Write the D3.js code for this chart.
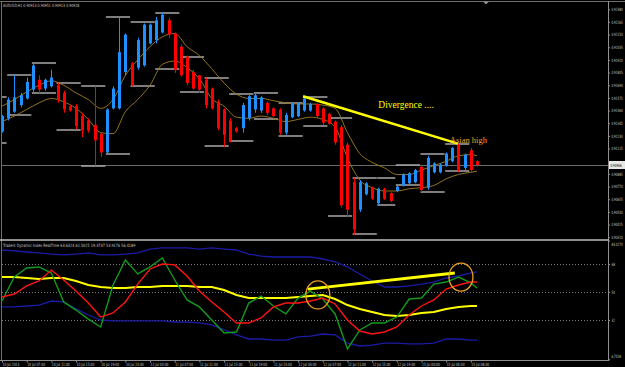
<!DOCTYPE html>
<html>
<head>
<meta charset="utf-8">
<script src="https://cdn.jsdelivr.net/npm/d3@7"></script>
<style>
  html, body { margin: 0; padding: 0; background: #000; }
  svg { display: block; }
  text { font-family: Tahoma, "DejaVu Sans", sans-serif; }
</style>
</head>
<body>
<div id="chart"></div>
<script>
// AUDUSD H1 bars, 10 Jul 03:00 -> 15 Jul 09:00 (index = bar number)
const opens  = [0.9127,0.9139,0.9145,0.9151,0.9157,0.9165,0.9174,0.9166,0.9168,0.9169,0.9162,0.9150,0.9150,0.9141,0.9137,0.9133,0.9125,0.9108,0.9148,0.9148,0.9181,0.9189,0.9185,0.9187,0.9207,0.9210,0.9217,0.9228,0.9216,0.9204,0.9195,0.9181,0.9178,0.9174,0.9166,0.9154,0.9147,0.9137,0.9130,0.9130,0.9139,0.9147,0.9146,0.9153,0.9148,0.9147,0.9126,0.9140,0.9141,0.9146,0.9146,0.9152,0.9148,0.9143,0.9136,0.9131,0.9115,0.9081,0.9056,0.9070,0.9076,0.9062,0.9075,0.9071,0.9073,0.9078,0.9080,0.9081,0.9095,0.9076,0.9090,0.9090,0.9096,0.9100,0.9115,0.9094,0.9110,0.9100]
const highs  = [0.9142,0.9158,0.9178,0.9162,0.9176,0.9189,0.9178,0.9175,0.9183,0.9171,0.9164,0.9151,0.9152,0.9144,0.9139,0.9168,0.9126,0.9148,0.9168,0.9231,0.9216,0.9190,0.9212,0.9225,0.9225,0.9231,0.9235,0.9230,0.9217,0.9206,0.9196,0.9183,0.9178,0.9176,0.9167,0.9156,0.9148,0.9139,0.9131,0.9153,0.9160,0.9162,0.9159,0.9154,0.9149,0.9148,0.9144,0.9153,0.9153,0.9158,0.9153,0.9153,0.9149,0.9144,0.9137,0.9133,0.9117,0.9085,0.9083,0.9081,0.9077,0.9076,0.9076,0.9072,0.9078,0.9089,0.9090,0.9093,0.9097,0.9105,0.9099,0.9098,0.9108,0.9113,0.9116,0.9107,0.9112,0.9101]
const lows   = [0.9126,0.9137,0.9144,0.9149,0.9156,0.9163,0.9162,0.9164,0.9167,0.9153,0.9144,0.9145,0.9129,0.9122,0.9126,0.9096,0.9104,0.9107,0.9147,0.9147,0.9178,0.9168,0.9183,0.9186,0.9206,0.9207,0.9216,0.9212,0.9180,0.9177,0.9169,0.9165,0.9162,0.9148,0.9147,0.9128,0.9113,0.9117,0.9126,0.9126,0.9137,0.9144,0.9144,0.9142,0.9140,0.9124,0.9124,0.9139,0.9140,0.9145,0.9145,0.9139,0.9133,0.9133,0.9115,0.9058,0.9049,0.9033,0.9054,0.9069,0.9065,0.9060,0.9065,0.9063,0.9072,0.9077,0.9079,0.9080,0.9072,0.9074,0.9089,0.9089,0.9095,0.9099,0.9090,0.9090,0.9090,0.9095]
const closes = [0.9141,0.9156,0.9158,0.9160,0.9172,0.9187,0.9165,0.9174,0.9176,0.9156,0.9147,0.9146,0.9132,0.9128,0.9128,0.9119,0.9108,0.9147,0.9166,0.9199,0.9215,0.9169,0.9210,0.9224,0.9224,0.9228,0.9233,0.9215,0.9183,0.9178,0.9171,0.9166,0.9165,0.9151,0.9148,0.9130,0.9124,0.9119,0.9127,0.9151,0.9159,0.9160,0.9158,0.9144,0.9141,0.9126,0.9142,0.9152,0.9152,0.9157,0.9152,0.9141,0.9135,0.9134,0.9117,0.9060,0.9056,0.9038,0.9081,0.9080,0.9066,0.9075,0.9066,0.9064,0.9077,0.9088,0.9089,0.9092,0.9074,0.9103,0.9098,0.9097,0.9107,0.9112,0.9092,0.9106,0.9092,0.90966]

// 4-hour high / low levels
const levelBreaks = [-3,1,5,9,13,17,21,25,29,33,37,41,45,49,53,57,61,64,68,72,76]
const levelHigh = [0.9158,0.9178,0.9189,0.9171,0.9168,0.9231,0.9226,0.9235,0.9195,0.9176,0.9161,0.9162,0.9153,0.9158,0.9139,0.9085,0.9085,0.9097,0.9107,0.9116]
const levelLow  = [0.9117,0.9142,0.9162,0.9128,0.9096,0.9107,0.9168,0.9184,0.9163,0.9114,0.9118,0.9138,0.9123,0.9132,0.9050,0.9034,0.9060,0.9078,0.9072,0.9091]

// MA channel, read every second bar
const maIdx   = [0,2,4,6,8,10,12,14,16,18,20,22,24,26,28,30,32,34,36,38,40,42,44,46,48,50,52,54,56,58,60,62,64,66,68,70,72,74,76,77]
const maUpper = [0.9150,0.9156,0.9163,0.9169,0.9173,0.9169,0.9162,0.9156,0.9148,0.9156,0.9178,0.9192,0.9204,0.9213,0.9216,0.9204,0.9196,0.9184,0.9171,0.9161,0.9157,0.9157,0.9155,0.9153,0.9152,0.9152,0.9151,0.9148,0.9126,0.9107,0.9099,0.9094,0.9088,0.9088,0.9092,0.9096,0.9100,0.9105,0.9106,0.9105]
const maLower = [0.9136,0.9141,0.9147,0.9153,0.9157,0.9154,0.9148,0.9138,0.9126,0.9125,0.9145,0.9156,0.9169,0.9188,0.9191,0.9185,0.9175,0.9157,0.9150,0.9140,0.9139,0.9141,0.9139,0.9136,0.9138,0.9140,0.9138,0.9131,0.9103,0.9083,0.9076,0.9073,0.9073,0.9075,0.9076,0.9078,0.9084,0.9088,0.9090,0.9091]

// Traders Dynamic Index, read every second bar
const tdiUpper  = [77.0,76.4,75.7,75.1,74.4,73.8,74.4,75.1,73.8,73.8,74.4,75.1,77.6,78.3,78.3,78.3,77.6,78.3,77.6,77.0,74.4,73.1,72.5,72.5,72.5,72.5,71.2,69.3,66.1,61.6,57.1,53.2,53.2,53.9,55.1,56.4,59.0,60.3,62.2,62.9]
const tdiLower  = [40.4,40.4,41.0,41.6,44.2,43.6,39.1,35.2,32.0,31.4,31.4,31.4,31.4,31.4,30.7,30.7,30.1,28.8,25.6,22.4,19.8,19.8,19.1,19.1,21.1,21.7,23.0,22.4,17.2,15.3,15.9,17.2,17.2,16.6,16.6,17.2,19.8,19.8,19.1,19.1]
const tdiBase   = [59.6,59.6,59.0,58.4,59.0,59.0,57.1,54.5,53.2,52.6,52.6,53.2,53.2,53.9,53.9,53.9,53.2,53.2,51.3,48.1,46.1,46.1,46.1,46.1,46.8,47.4,48.1,45.5,41.6,39.1,37.1,35.2,34.6,35.2,36.5,37.1,39.1,40.4,41.0,41.0]
const tdiSignal = [46.8,48.7,53.9,57.1,64.1,57.7,50.6,42.9,33.9,36.5,43.6,55.1,64.8,68.0,67.4,60.3,50.6,43.6,37.1,30.1,30.1,33.3,40.4,42.9,42.9,44.2,46.1,42.3,32.0,24.9,23.0,24.3,27.5,35.2,41.0,44.9,51.9,54.5,56.4,56.4]
const tdiRsi    = [44.2,59.6,65.4,66.1,62.2,43.6,38.4,32.6,27.5,54.5,70.6,61.6,66.1,71.9,57.7,44.9,40.4,32.0,23.6,24.3,42.9,47.4,41.0,35.9,46.1,50.6,45.5,35.9,13.4,25.6,30.1,30.1,33.9,45.5,46.1,55.1,56.4,59.6,55.8,52.6]
const tdiLevels = [68, 50, 32]
const tdiTicks  = [83.0274, 68, 50, 32, 6.7418]

const priceTicks = [0.92380,0.92265,0.92150,0.92035,0.91920,0.91805,0.91690,0.91575,0.91460,0.91345,0.91230,0.91115,0.91000,0.90885,0.90770,0.90655,0.90540,0.90425,0.90310]
const timeIdx = [0,4,8,12,16,20,24,28,32,36,40,44,48,52,56,60,64,68,72,76]
const timeLabels = ['10 Jul 2013','10 Jul 07:00','10 Jul 11:00','10 Jul 15:00','10 Jul 19:00','10 Jul 23:00','11 Jul 03:00','11 Jul 07:00','11 Jul 11:00','11 Jul 15:00','11 Jul 19:00','11 Jul 23:00','12 Jul 03:00','12 Jul 07:00','12 Jul 11:00','12 Jul 15:00','12 Jul 19:00','15 Jul 00:00','15 Jul 04:00','15 Jul 08:00']

// hand-drawn objects: [bar, value]
const divergence = [[48.8, 0.9159], [73.9, 0.9116]]
const tdiTrend = [[49.6, 51.9], [73.4, 62.2]]
const tdiCircles = [[51.2, 48.1], [74.4, 59.6]]

const dms = { width: 625, height: 367, right: 608, mainTop: 1, mainBottom: 240, subTop: 240.6, subBottom: 359.3 }
const tinyFont = '4.4px'
const squeeze = 0.62

const svg = d3.select('#chart').append('svg')
    .attr('width', dms.width)
    .attr('height', dms.height)
    .style('background', '#000')

const defs = svg.append('defs')
defs.append('clipPath').attr('id', 'clip-main').append('rect')
    .attr('x', 2).attr('y', dms.mainTop).attr('width', dms.right - 2).attr('height', dms.mainBottom - dms.mainTop - 1)
defs.append('clipPath').attr('id', 'clip-sub').append('rect')
    .attr('x', 2).attr('y', dms.mainBottom + 1).attr('width', dms.right - 2).attr('height', dms.subBottom - dms.mainBottom - 1)

const x = d3.scaleLinear().domain([0, 77]).range([2, 477])
const y = d3.scaleLinear().domain([0.90285, 0.92464]).range([dms.mainBottom, 0])
const yT = d3.scaleLinear().domain([6.7418, 83.0274]).range([dms.subBottom, dms.subTop])
const px = v => Math.round(x(v)) + 0.5

// squeezed tiny label, as the terminal draws it
const tinyText = (sel, tx, ty, txt, fill, sx) => sel.append('text')
    .attr('transform', `translate(${tx},${ty}) scale(${sx || squeeze},1)`)
    .style('font-size', tinyFont)
    .attr('fill', fill || '#c8c8c8')
    .text(txt)

// frame
svg.append('line').attr('x1', 0).attr('x2', dms.width).attr('y1', 1.5).attr('y2', 1.5).attr('stroke', '#707070')
svg.append('line').attr('x1', 1.5).attr('x2', 1.5).attr('y1', 1).attr('y2', 360).attr('stroke', '#707070')
svg.append('line').attr('x1', dms.right + 0.5).attr('x2', dms.right + 0.5).attr('y1', 1).attr('y2', 360).attr('stroke', '#909090')
svg.append('line').attr('x1', 0).attr('x2', dms.right + 1).attr('y1', 360.5).attr('y2', 360.5).attr('stroke', '#909090')
svg.append('path').attr('d', 'M483,1.5 L489,1.5 L486,4.5 Z').attr('fill', '#909090')

const main = svg.append('g').attr('clip-path', 'url(#clip-main)')

// current price line
const lastPrice = closes[closes.length - 1]
main.append('line')
    .attr('x1', 0).attr('x2', dms.right)
    .attr('y1', Math.round(y(lastPrice)) + 0.5).attr('y2', Math.round(y(lastPrice)) + 0.5)
    .attr('stroke', '#6a6a6a')

// level lines
const levelSegs = levelHigh.flatMap((hi, j) => [
    { a: levelBreaks[j], b: levelBreaks[j + 1], p: hi },
    { a: levelBreaks[j], b: levelBreaks[j + 1], p: levelLow[j] }
])
main.append('g').selectAll('line')
    .data(levelSegs)
    .join('line')
    .attr('x1', d => x(d.a) - 1)
    .attr('x2', d => x(d.b) - 1.5)
    .attr('y1', d => Math.round(y(d.p)))
    .attr('y2', d => Math.round(y(d.p)))
    .attr('stroke', '#a9a9a9')
    .attr('stroke-width', 1.5)

// MA channel
const maLine = d3.line().x(d => x(d[0])).y(d => y(d[1])).curve(d3.curveMonotoneX)
;[maUpper, maLower].forEach(s => {
    main.append('path')
        .datum(d3.zip(maIdx, s))
        .attr('d', maLine)
        .attr('fill', 'none')
        .attr('stroke', '#94741f')
        .attr('stroke-width', 1)
})

// bars
const bars = opens.map((o, i) => ({ i, o, h: highs[i], l: lows[i], c: closes[i] }))
const colorOf = d => d.c >= d.o ? '#1e90ff' : '#ff0000'

main.append('g').selectAll('line')
    .data(bars)
    .join('line')
    .attr('x1', d => px(d.i))
    .attr('x2', d => px(d.i))
    .attr('y1', d => y(d.h))
    .attr('y2', d => y(d.l))
    .attr('stroke', colorOf)

main.append('g').selectAll('rect')
    .data(bars)
    .join('rect')
    .attr('x', d => px(d.i) - 1.5)
    .attr('width', 3)
    .attr('y', d => y(Math.max(d.o, d.c)))
    .attr('height', d => Math.max(1, Math.abs(y(d.o) - y(d.c))))
    .attr('fill', colorOf)

// divergence annotation
main.append('line')
    .attr('x1', x(divergence[0][0])).attr('y1', y(divergence[0][1]))
    .attr('x2', x(divergence[1][0])).attr('y2', y(divergence[1][1]))
    .attr('stroke', '#ffff00')
    .attr('stroke-width', 2.6)

main.append('text')
    .attr('x', x(61)).attr('y', y(0.9148))
    .style('font-family', '"Liberation Serif", "Times New Roman", serif')
    .style('font-size', '9.5px')
    .attr('fill', '#ffff00')
    .text('Divergence ....')

main.append('text')
    .attr('x', x(72.6)).attr('y', y(0.9117))
    .style('font-family', '"Liberation Serif", "Times New Roman", serif')
    .style('font-size', '8.5px')
    .attr('fill', '#f0a030')
    .text('Asian high')

tinyText(svg, 3, 7, 'AUDUSD,H1  0.90913 0.90951 0.90913 0.90928', null, 0.73)

// price axis
const priceAxis = svg.append('g')
    .attr('transform', `translate(${dms.right},0)`)
    .call(d3.axisRight(y).tickValues(priceTicks.filter(t => Math.abs(y(t) - y(lastPrice)) > 7))
        .tickFormat(d3.format('.5f')).tickSize(2).tickSizeOuter(0))
priceAxis.select('.domain').remove()
priceAxis.selectAll('line').attr('stroke', '#909090')
priceAxis.selectAll('text')
    .attr('x', null).attr('dy', '0.32em')
    .attr('transform', `translate(3.5,0) scale(${squeeze},1)`)
    .style('font-size', tinyFont)
    .attr('fill', '#c8c8c8')

svg.append('rect')
    .attr('x', dms.right + 1).attr('y', y(lastPrice) - 4)
    .attr('width', 16).attr('height', 8)
    .attr('fill', '#e8e8e8')
tinyText(svg, dms.right + 2.5, y(lastPrice) + 1.6, d3.format('.5f')(lastPrice), '#000')

// separator between panels
svg.append('line')
    .attr('x1', 0).attr('x2', dms.right + 1)
    .attr('y1', dms.mainBottom).attr('y2', dms.mainBottom)
    .attr('stroke', '#c0c0c0').attr('stroke-width', 1.6)

// TDI panel
const sub = svg.append('g').attr('clip-path', 'url(#clip-sub)')

sub.append('g').selectAll('line')
    .data(tdiLevels)
    .join('line')
    .attr('x1', 2).attr('x2', dms.right)
    .attr('y1', d => Math.round(yT(d)) + 0.5)
    .attr('y2', d => Math.round(yT(d)) + 0.5)
    .attr('stroke', '#7a7a7a')
    .attr('stroke-dasharray', '1,2')

const tdiLine = d3.line().x(d => x(d[0])).y(d => yT(d[1]))
const series = [
    { v: tdiUpper, c: '#1b1ba6', w: 1.3 },
    { v: tdiLower, c: '#1b1ba6', w: 1.3 },
    { v: tdiBase, c: '#ffff00', w: 2 },
    { v: tdiRsi, c: '#13991b', w: 1.4 },
    { v: tdiSignal, c: '#ff1414', w: 1.4 }
]
series.forEach(s => {
    sub.append('path')
        .datum(d3.zip(maIdx, s.v))
        .attr('d', tdiLine)
        .attr('fill', 'none')
        .attr('stroke', s.c)
        .attr('stroke-width', s.w)
})

sub.append('line')
    .attr('x1', x(tdiTrend[0][0])).attr('y1', yT(tdiTrend[0][1]))
    .attr('x2', x(tdiTrend[1][0])).attr('y2', yT(tdiTrend[1][1]))
    .attr('stroke', '#ffff00')
    .attr('stroke-width', 2.8)

sub.append('g').selectAll('ellipse')
    .data(tdiCircles)
    .join('ellipse')
    .attr('cx', d => x(d[0]))
    .attr('cy', d => yT(d[1]))
    .attr('rx', 12).attr('ry', 14)
    .attr('fill', 'none')
    .attr('stroke', '#f0a020')
    .attr('stroke-width', 1.3)

tinyText(svg, 3, 247, 'Traders Dynamic Index RealTime 63.6324 61.5025 19.3737 53.9176 56.4189', null, 0.78)

const tdiAxis = svg.append('g')
    .attr('transform', `translate(${dms.right},0)`)
    .call(d3.axisRight(yT).tickValues(tdiTicks)
        .tickFormat(d => Number.isInteger(d) ? d : d.toFixed(4)).tickSize(2).tickSizeOuter(0))
tdiAxis.select('.domain').remove()
tdiAxis.selectAll('line').attr('stroke', '#909090')
tdiAxis.selectAll('text')
    .attr('x', null)
    .attr('transform', `translate(3.5,0) scale(${squeeze},1)`)
    .style('font-size', tinyFont)
    .attr('fill', '#c8c8c8')
tdiAxis.selectAll('.tick').filter(d => d === tdiTicks[0]).select('text').attr('dy', '1.2em')
tdiAxis.selectAll('.tick').filter(d => d === tdiTicks[tdiTicks.length - 1]).select('text').attr('dy', '-0.3em')

// time axis
const timeAxis = svg.append('g')
    .attr('transform', 'translate(0,360.5)')
    .call(d3.axisBottom(x).tickValues(timeIdx).tickFormat((d, i) => timeLabels[i]).tickSize(2).tickSizeOuter(0))
timeAxis.select('.domain').remove()
timeAxis.selectAll('line').attr('stroke', '#909090')
timeAxis.selectAll('text')
    .attr('text-anchor', 'start')
    .attr('x', null).attr('y', null).attr('dy', 0)
    .attr('transform', 'translate(0,5) scale(0.68,1)')
    .style('font-size', tinyFont)
    .attr('fill', '#c8c8c8')
</script>
</body>
</html>
